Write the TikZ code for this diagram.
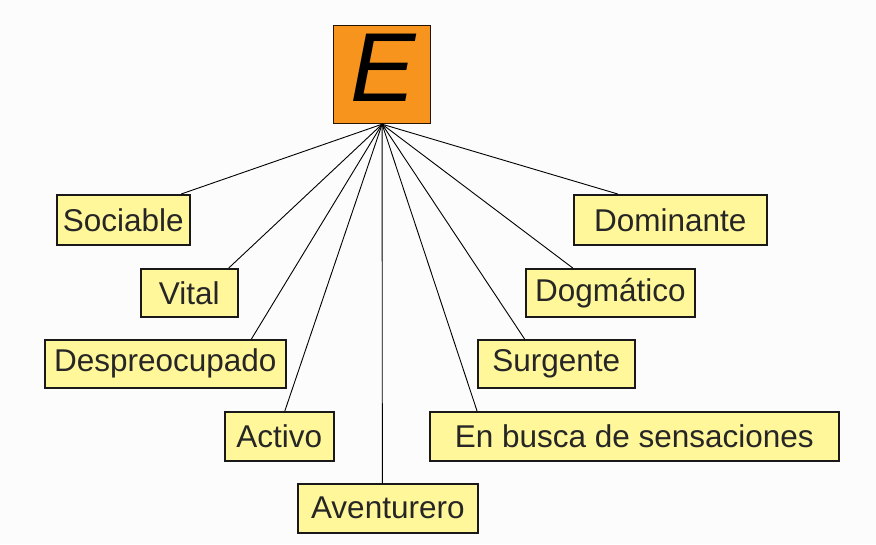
\documentclass[tikz,border=0pt]{standalone}
\usepackage{fontspec}
\setmainfont{Liberation Sans}
\usetikzlibrary{calc}
\definecolor{boxfill}{RGB}{255,247,153}
\definecolor{eorange}{RGB}{247,148,30}
\definecolor{bgc}{RGB}{252,252,252}
\begin{document}
\begin{tikzpicture}[x=1pt,y=-1pt,
  trait/.style={draw=black!90,line width=1.6pt,fill=boxfill,inner sep=0pt,anchor=north west,
    font=\fontsize{31.5}{34}\selectfont,text=black!85},
  conn/.style={line width=0.9pt,black}]
\fill[bgc] (0,0) rectangle (876,544);
\useasboundingbox (0,0) rectangle (876,544);
% hub box
\node[draw=black!85!orange,line width=1.2pt,fill=eorange,minimum width=97pt,minimum height=98pt,inner sep=0pt,anchor=north west] (E) at (333,25) {};
\node[font=\fontsize{98}{100}\selectfont\itshape] (Eletter) at ($(E.center)+(1,-7)$) {E};
% trait boxes
\node[trait,minimum width=133pt,minimum height=50pt] (soc) at (56,194) {Sociable};
\node[trait,minimum width=97pt,minimum height=48pt] (vit) at (140,268) {Vital};
\node[trait,minimum width=241pt,minimum height=48pt] (des) at (44,339) {Despreocupado};
\node[trait,minimum width=109pt,minimum height=49pt] (act) at (224,411) {Activo};
\node[trait,minimum width=180pt,minimum height=49pt] (ave) at (297,483) {Aventurero\hspace{5pt}};
\node[trait,minimum width=193pt,minimum height=50pt] (dom) at (573,194) {Dominante};
\node[trait,minimum width=169pt,minimum height=48pt] (dog) at (525,268) {Dogmático};
\node[trait,minimum width=157pt,minimum height=48pt] (sur) at (477,339) {Surgente};
\node[trait,minimum width=409pt,minimum height=49pt] (enb) at (429,411) {En busca de sensaciones};
% connectors
\draw[conn] (E.south) -- ($(soc.north west)!0.93!(soc.north east)$);
\draw[conn] (E.south) -- ($(vit.north west)!0.90!(vit.north east)$);
\draw[conn] (E.south) -- ($(des.north west)!0.855!(des.north east)$);
\draw[conn] (E.south) -- ($(act.north west)!0.55!(act.north east)$);
\draw[conn] (E.south) -- ($(ave.north west)!0.47!(ave.north east)$);
\draw[conn] (E.south) -- ($(dom.north west)!0.23!(dom.north east)$);
\draw[conn] (E.south) -- ($(dog.north west)!0.28!(dog.north east)$);
\draw[conn] (E.south) -- ($(sur.north west)!0.30!(sur.north east)$);
\draw[conn] (E.south) -- ($(enb.north west)!0.117!(enb.north east)$);
\end{tikzpicture}
\end{document}
